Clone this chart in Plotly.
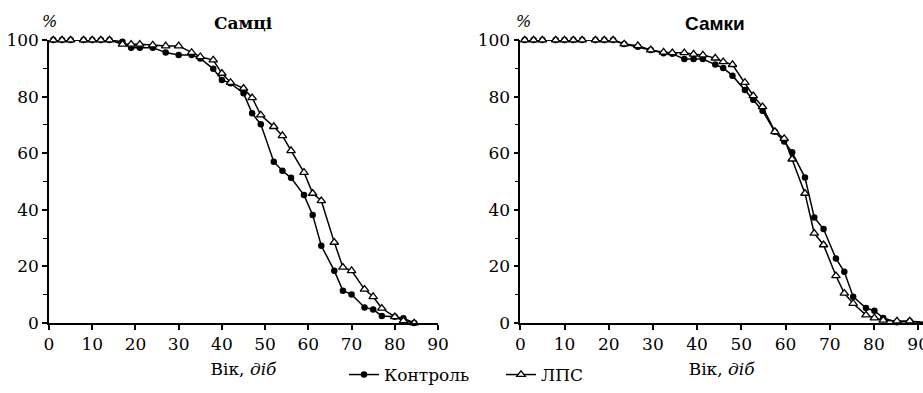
import plotly.graph_objects as go
from plotly.subplots import make_subplots

# ---- data ----
days_male = [1, 3, 5, 8, 10, 12, 14, 17, 19, 21, 24, 27, 30, 33, 35, 38, 40, 42, 45, 47,
             49, 52, 54, 56, 59, 61, 63, 66, 68, 70, 73, 75, 77, 80, 82, 84.5]
male_control = [100, 100, 100, 100, 100, 100, 100, 99.4, 97.3, 97.3, 97.3, 95.6, 94.7, 94.7,
                93.5, 89.8, 85.9, 84.7, 81.2, 74.1, 70.2, 57.0, 53.8, 51.3, 45.2, 38.2, 27.3,
                18.5, 11.4, 10.1, 5.5, 4.8, 2.5, 2.2, 1.7, 0]
male_lps = [100, 100, 100, 100, 100, 100, 100, 98.5, 98.5, 98.5, 98.2, 97.9, 97.9, 95.6,
            94.1, 92.9, 88.2, 85.0, 82.9, 79.6, 73.5, 69.4, 66.2, 60.9, 53.2, 45.8, 43.2,
            28.5, 19.7, 18.5, 11.9, 9.3, 5.2, 2.2, 0.8, 0]

days_female = [1, 3, 5, 8, 10, 12, 14, 17, 19, 21, 23.5, 26.6, 29.5, 32.4, 34.4, 37.1, 39.2,
               41.3, 44.1, 45.9, 48, 50.8, 52.7, 54.8, 57.6, 59.7, 61.5, 64.4, 66.5, 68.6,
               71.4, 73.3, 75.3, 78.2, 80.1, 82.1, 85.2, 88.1, 92]
female_control = [100, 100, 100, 100, 100, 100, 100, 100, 100, 100, 98.6, 97.6, 96.5, 95.3,
                  95.1, 93.3, 93.3, 93.3, 91.3, 90.1, 87.4, 82.3, 78.9, 75.0, 67.6, 64.1,
                  60.3, 51.4, 37.3, 33.2, 22.8, 18.1, 9.3, 5.3, 4.3, 1.8, 0.3, 0.6, 0]
female_lps = [100, 100, 100, 100, 100, 100, 100, 100, 100, 100, 98.6, 98.0, 96.5, 95.7,
              95.5, 95.5, 95.0, 94.7, 93.6, 92.3, 91.3, 85.0, 80.3, 76.4, 67.6, 65.2, 57.9,
              45.8, 31.7, 27.6, 16.7, 10.5, 6.9, 2.8, 1.8, 1.0, 0.7, 0.7, 0]

x_ticks = [0, 10, 20, 30, 40, 50, 60, 70, 80, 90]
y_ticks = [0, 20, 40, 60, 80, 100]
titles = ["Самці", "Самки"]
series_names = ["Контроль", "ЛПС"]

W, H = 923, 393
SERIF = "DejaVu Serif"
SANS = "Liberation Sans, Arial, sans-serif"

fig = make_subplots(rows=1, cols=2)

ctrl_style = dict(mode="lines+markers", line=dict(color="black", width=1.5),
                  marker=dict(symbol="circle", size=6.5, color="black"), cliponaxis=False)
lps_style = dict(mode="lines+markers", line=dict(color="black", width=1.5),
                 marker=dict(symbol="triangle-up", size=7.5, color="white",
                             line=dict(color="black", width=1.3)), cliponaxis=False)

fig.add_trace(go.Scatter(x=days_male, y=male_control, name=series_names[0],
                         legendgroup="c", showlegend=True, **ctrl_style), row=1, col=1)
fig.add_trace(go.Scatter(x=days_male, y=male_lps, name=series_names[1],
                         legendgroup="l", showlegend=True, **lps_style), row=1, col=1)
fig.add_trace(go.Scatter(x=days_female, y=female_control, name=series_names[0],
                         legendgroup="c", showlegend=False, **ctrl_style), row=1, col=2)
fig.add_trace(go.Scatter(x=days_female, y=female_lps, name=series_names[1],
                         legendgroup="l", showlegend=False, **lps_style), row=1, col=2)

ydom = [1 - 323 / H, 1 - 40 / H]
xdoms = [[49 / W, 438 / W], [520.3 / W, 1.0]]
xranges = [[0, 90], [0, 91.1]]

axis_common = dict(showline=True, linecolor="black", linewidth=1.5, showgrid=False,
                   zeroline=False, ticks="outside", tickcolor="black", tickwidth=1.5,
                   ticklen=5, automargin=False,
                   tickfont=dict(family=SERIF, size=17, color="black"))

for i in range(2):
    fig.update_xaxes(domain=xdoms[i], range=xranges[i], tickvals=x_ticks,
                     ticklabeloverflow="allow",
                     title=dict(text="Вік, <i>діб</i>", font=dict(family=SERIF, size=17,
                                                                 color="black"), standoff=10),
                     row=1, col=i + 1, **axis_common)
    fig.update_yaxes(domain=ydom, range=[0, 100], tickvals=y_ticks,
                     minor=dict(tickvals=[10, 30, 50, 70, 90], ticks="outside", ticklen=4,
                                tickcolor="black", tickwidth=1.2),
                     row=1, col=i + 1, **axis_common)

title_x = [243 / W, 715 / W]
title_fonts = [SERIF, SANS]
title_sizes = [17, 19]
pct_x = [49.5 / W, 523 / W]
for i in range(2):
    fig.add_annotation(x=title_x[i], y=1 - 23 / H, xref="paper", yref="paper",
                       xanchor="center", yanchor="middle",
                       text="<b>" + titles[i] + "</b>", showarrow=False,
                       font=dict(family=title_fonts[i], size=title_sizes[i], color="black"))
    fig.add_annotation(x=pct_x[i], y=1 - 22 / H, xref="paper", yref="paper",
                       xanchor="center", yanchor="middle",
                       text="<i>%</i>", showarrow=False,
                       font=dict(family=SERIF, size=16, color="black"))

fig.update_layout(
    template="none",
    width=W, height=H,
    margin=dict(l=0, r=0, t=0, b=0),
    paper_bgcolor="white", plot_bgcolor="white",
    font=dict(family=SERIF, color="black"),
    showlegend=True,
    legend=dict(orientation="h", x=344 / W, y=0, xanchor="left", yanchor="bottom",
                font=dict(family=SERIF, size=17, color="black"),
                entrywidth=112, entrywidthmode="pixels", bgcolor="rgba(0,0,0,0)",
                tracegroupgap=0),
)

fig.write_html("out.html", config={"displayModeBar": False},
               post_script="document.body.style.margin='0';")
